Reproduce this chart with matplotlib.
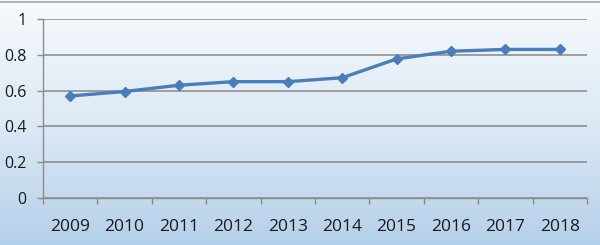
import matplotlib
matplotlib.use("Agg")
import matplotlib.pyplot as plt
import numpy as np
from matplotlib.colors import LinearSegmentedColormap

years = ["2009", "2010", "2011", "2012", "2013", "2014", "2015", "2016", "2017", "2018"]
values = [0.57, 0.595, 0.63, 0.65, 0.65, 0.672, 0.777, 0.82, 0.83, 0.83]
yticks = [0, 0.2, 0.4, 0.6, 0.8, 1]
ytick_labels = ["0", "0.2", "0.4", "0.6", "0.8", "1"]

plt.rcParams['font.family'] = ['Open Sans', 'DejaVu Sans']

fig = plt.figure(figsize=(6, 2.45), dpi=100)

# gradient background
bg = fig.add_axes([0, 0, 1, 1], zorder=0)
cmap = LinearSegmentedColormap.from_list("bg", ["#f7fafd", "#dde9f5", "#b5d0ea"])
grad = np.linspace(0, 1, 256).reshape(-1, 1)
bg.imshow(grad, aspect="auto", cmap=cmap, extent=[0, 1, 0, 1], origin="upper")
bg.axhline(0.992, color="#a6a6a6", lw=1.2)
bg.set_xlim(0, 1); bg.set_ylim(0, 1)
bg.axis("off")

ax = fig.add_axes([0.0717, 0.1918, 0.9066, 0.7306], zorder=1)
ax.patch.set_alpha(0)
x = np.arange(len(years))
ax.plot(x, values, color="#4a7ebb", lw=2.4, marker="D", markersize=5.5,
        markerfacecolor="#4a7ebb", markeredgecolor="#4a7ebb", zorder=3)

ax.set_xlim(-0.5, len(years) - 0.5)
ax.set_ylim(0, 1)
ax.set_yticks(yticks)
ax.set_yticklabels(ytick_labels, fontsize=11.5, color="#1a1a1a")
ax.set_xticks(x)
ax.set_xticklabels(years, fontsize=12.5, color="#1a1a1a")
ax.set_xticks(np.arange(-0.5, len(years)), minor=True)
ax.tick_params(axis="x", which="major", length=0, pad=15)
ax.tick_params(axis="x", which="minor", length=4, color="#8c8c8c", width=1)
ax.tick_params(axis="y", length=4, color="#8c8c8c", width=1, pad=8)
ax.yaxis.grid(True, color="#888888", lw=1.1)
ax.set_axisbelow(True)
for s in ["top", "right"]:
    ax.spines[s].set_visible(False)
for s in ["left", "bottom"]:
    ax.spines[s].set_color("#8c8c8c")
    ax.spines[s].set_linewidth(1)

fig.savefig("out.png", dpi=100)
